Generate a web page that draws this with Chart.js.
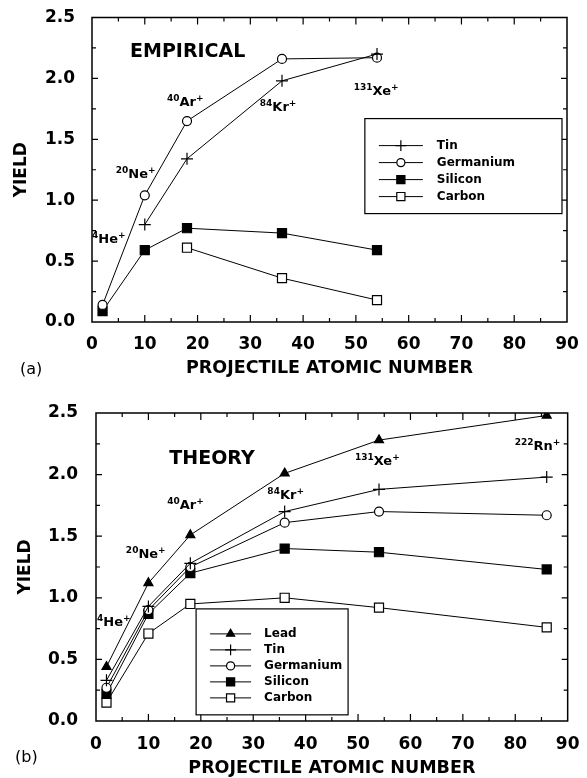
<!DOCTYPE html>
<html>
<head>
<meta charset="utf-8">
<script src="https://cdn.jsdelivr.net/npm/chart.js@4.4.1/dist/chart.umd.min.js"></script>
<style>
  html, body { margin: 0; padding: 0; background: #fff; }
  #wrap { position: relative; width: 587px; height: 778px; }
  .panel { position: absolute; left: 0; width: 587px; }
  #panelA { top: 0; height: 380px; }
  #panelB { top: 380px; height: 398px; }
</style>
</head>
<body>
<div id="wrap">
  <div class="panel" id="panelA"><canvas id="chartA"></canvas></div>
  <div class="panel" id="panelB"><canvas id="chartB"></canvas></div>
</div>
<script>
// projectile atomic numbers: He, Ne, Ar, Kr, Xe, Rn
const zEmpirical = [2, 10, 18, 36, 54];
const zTheory = [2, 10, 18, 36, 54, 86];

// (a) measured yields
const empTin = [null, 0.80, 1.34, 1.98, 2.20];
const empGermanium = [0.14, 1.04, 1.65, 2.16, 2.17];
const empSilicon = [0.09, 0.59, 0.77, 0.73, 0.59];
const empCarbon = [null, null, 0.61, 0.36, 0.18];

// (b) calculated yields
const thLead = [0.44, 1.12, 1.51, 2.01, 2.28, 2.48];
const thTin = [0.33, 0.93, 1.28, 1.70, 1.88, 1.98];
const thGermanium = [0.27, 0.90, 1.25, 1.61, 1.70, 1.67];
const thSilicon = [0.22, 0.87, 1.20, 1.40, 1.37, 1.23];
const thCarbon = [0.15, 0.71, 0.95, 1.00, 0.92, 0.76];

const xTickValues = [0, 10, 20, 30, 40, 50, 60, 70, 80, 90];
const yTickValues = [0, 0.5, 1.0, 1.5, 2.0, 2.5];

const ionMass = ['4', '20', '40', '84', '131', '222'];
const ionSymbol = ['He', 'Ne', 'Ar', 'Kr', 'Xe', 'Rn'];

const FONT = "'DejaVu Sans', 'Liberation Sans', sans-serif";

const markerStyle = {
    Lead: { pointStyle: 'triangle', radius: 5.2, fill: '#000' },
    Tin: { pointStyle: 'cross', radius: 6, fill: '#000' },
    Germanium: { pointStyle: 'circle', radius: 4.5, fill: '#fff' },
    Silicon: { pointStyle: 'rect', radius: 6.4, fill: '#000' },
    Carbon: { pointStyle: 'rect', radius: 6.4, fill: '#fff' }
};

function toPoints(xs, ys) {
    const pts = [];
    xs.forEach((x, i) => {
        if (ys[i] !== null && ys[i] !== undefined) pts.push({ x: x, y: ys[i] });
    });
    return pts;
}

function makeDataset(name, xs, ys) {
    const m = markerStyle[name];
    return {
        label: name,
        data: toPoints(xs, ys),
        borderColor: '#000',
        borderWidth: 1,
        backgroundColor: m.fill,
        pointStyle: m.pointStyle,
        pointRadius: m.radius,
        pointHoverRadius: m.radius,
        pointBackgroundColor: m.fill,
        pointBorderColor: '#000',
        pointBorderWidth: 1.2,
        tension: 0,
        fill: false
    };
}

// box around the plot with inward ticks on all four sides
const frameTicks = {
    id: 'frameTicks',
    afterDatasetsDraw(chart) {
        const { ctx, chartArea: a, scales: { x, y } } = chart;
        ctx.save();
        ctx.strokeStyle = '#000';
        ctx.lineWidth = 1.5;
        ctx.strokeRect(a.left, a.top, a.right - a.left, a.bottom - a.top);
        ctx.lineWidth = 1.2;
        ctx.beginPath();
        for (let v = 5; v < 90; v += 5) {
            const px = x.getPixelForValue(v);
            const len = v % 10 === 0 ? 7 : 4;
            ctx.moveTo(px, a.bottom); ctx.lineTo(px, a.bottom - len);
            ctx.moveTo(px, a.top); ctx.lineTo(px, a.top + len);
        }
        for (let k = 1; k < 10; k++) {
            const v = k * 0.25;
            const py = y.getPixelForValue(v);
            const len = k % 2 === 0 ? 6 : 4;
            ctx.moveTo(a.left, py); ctx.lineTo(a.left + len, py);
            ctx.moveTo(a.right, py); ctx.lineTo(a.right - len, py);
        }
        ctx.stroke();
        ctx.restore();
    }
};

// panel heading, ion names with mass-number superscripts, panel letter
const panelNotes = {
    id: 'panelNotes',
    afterDraw(chart, args, opts) {
        const { ctx, scales: { x, y } } = chart;
        ctx.save();
        ctx.fillStyle = '#000';
        ctx.textAlign = 'left';
        ctx.textBaseline = 'middle';

        ctx.font = 'bold 19px ' + FONT;
        ctx.fillText(opts.heading, x.getPixelForValue(opts.headingAt[0]), y.getPixelForValue(opts.headingAt[1]));

        opts.ions.forEach(ion => {
            let px = x.getPixelForValue(ion.at[0]);
            const base = y.getPixelForValue(ion.at[1]) + 4.7;
            ctx.textBaseline = 'alphabetic';
            ctx.font = 'bold 9px ' + FONT;
            ctx.fillText(ionMass[ion.i], px, base - 5);
            px += ctx.measureText(ionMass[ion.i]).width;
            ctx.font = 'bold 13px ' + FONT;
            ctx.fillText(ionSymbol[ion.i], px, base);
            px += ctx.measureText(ionSymbol[ion.i]).width;
            ctx.font = 'bold 9px ' + FONT;
            ctx.fillText('+', px, base - 5);
        });

        ctx.font = '16px ' + FONT;
        ctx.textBaseline = 'middle';
        ctx.fillText(opts.letter, opts.letterAt[0], opts.letterAt[1]);
        ctx.restore();
    }
};

// boxed key drawn inside the plot
const boxLegend = {
    id: 'boxLegend',
    afterDraw(chart, args, opts) {
        const { ctx, scales: { x, y } } = chart;
        const left = x.getPixelForValue(opts.box[0]);
        const right = x.getPixelForValue(opts.box[2]);
        const top = y.getPixelForValue(opts.box[1]);
        const bottom = y.getPixelForValue(opts.box[3]);
        ctx.save();
        ctx.fillStyle = '#fff';
        ctx.fillRect(left, top, right - left, bottom - top);
        ctx.strokeStyle = '#000';
        ctx.lineWidth = 1.2;
        ctx.strokeRect(left, top, right - left, bottom - top);

        chart.data.datasets.forEach((ds, i) => {
            const rowY = top + opts.firstRow + i * opts.rowGap;
            const x1 = left + opts.sampleStart;
            const x2 = x1 + opts.sampleLength;
            ctx.strokeStyle = '#000';
            ctx.lineWidth = 1;
            ctx.beginPath();
            ctx.moveTo(x1, rowY);
            ctx.lineTo(x2, rowY);
            ctx.stroke();
            ctx.fillStyle = ds.pointBackgroundColor;
            ctx.lineWidth = 1.2;
            Chart.helpers.drawPoint(ctx, {
                pointStyle: ds.pointStyle,
                radius: ds.pointRadius * 0.9,
                rotation: 0,
                borderWidth: 1.2
            }, (x1 + x2) / 2, rowY);
            ctx.fillStyle = '#000';
            ctx.font = 'bold 12px ' + FONT;
            ctx.textAlign = 'left';
            ctx.textBaseline = 'middle';
            ctx.fillText(ds.label, left + opts.textStart, rowY);
        });
        ctx.restore();
    }
};

function buildOptions(p) {
    return {
        responsive: true,
        maintainAspectRatio: false,
        animation: false,
        events: [],
        layout: { padding: { top: p.padTop, right: p.padRight, left: 0, bottom: 0 } },
        scales: {
            x: {
                type: 'linear',
                min: 0,
                max: 90,
                afterBuildTicks: s => { s.ticks = xTickValues.map(v => ({ value: v })); },
                afterFit: s => { s.height = p.xHeight; },
                grid: { display: false },
                border: { display: false },
                ticks: {
                    color: '#000',
                    padding: p.xTickPad,
                    maxRotation: 0,
                    font: { family: FONT, size: 17, weight: 'bold', lineHeight: 1 }
                },
                title: {
                    display: true,
                    text: 'PROJECTILE ATOMIC NUMBER',
                    color: '#000',
                    padding: { top: 0, bottom: p.xTitlePad },
                    font: { family: FONT, size: 17.5, weight: 'bold', lineHeight: 1 }
                }
            },
            y: {
                min: 0,
                max: 2.5,
                afterBuildTicks: s => { s.ticks = yTickValues.map(v => ({ value: v })); },
                afterFit: s => { s.width = p.yWidth; },
                grid: { display: false },
                border: { display: false },
                ticks: {
                    color: '#000',
                    padding: p.yTickPad,
                    callback: v => v.toFixed(1),
                    font: { family: FONT, size: 17, weight: 'bold', lineHeight: 1 }
                },
                title: {
                    display: true,
                    text: 'YIELD',
                    color: '#000',
                    padding: { top: p.yTitlePad, bottom: 0 },
                    font: { family: FONT, size: 17, weight: 'bold', lineHeight: 1 }
                }
            }
        },
        plugins: {
            legend: { display: false },
            tooltip: { enabled: false },
            panelNotes: p.notes,
            boxLegend: p.key
        }
    };
}

new Chart(document.getElementById('chartA'), {
    type: 'line',
    data: {
        datasets: [
            makeDataset('Tin', zEmpirical, empTin),
            makeDataset('Germanium', zEmpirical, empGermanium),
            makeDataset('Silicon', zEmpirical, empSilicon),
            makeDataset('Carbon', zEmpirical, empCarbon)
        ]
    },
    options: buildOptions({
        padTop: 15, padRight: 20, xHeight: 58, yWidth: 92,
        xTickPad: 6.5, xTitlePad: 3.25, yTickPad: 9, yTitlePad: 13,
        notes: {
            heading: 'EMPIRICAL',
            headingAt: [7.2, 2.215],
            letter: '(a)',
            letterAt: [20, 370],
            ions: [
                { i: 0, at: [0.0, 0.684] },
                { i: 1, at: [4.5, 1.22] },
                { i: 2, at: [14.2, 1.81] },
                { i: 3, at: [31.8, 1.77] },
                { i: 4, at: [49.6, 1.90] }
            ]
        },
        key: { box: [51.7, 1.67, 89.05, 0.89], firstRow: 27, rowGap: 17, sampleStart: 14, sampleLength: 44, textStart: 72 }
    }),
    plugins: [frameTicks, panelNotes, boxLegend]
});

new Chart(document.getElementById('chartB'), {
    type: 'line',
    data: {
        datasets: [
            makeDataset('Lead', zTheory, thLead),
            makeDataset('Tin', zTheory, thTin),
            makeDataset('Germanium', zTheory, thGermanium),
            makeDataset('Silicon', zTheory, thSilicon),
            makeDataset('Carbon', zTheory, thCarbon)
        ]
    },
    options: buildOptions({
        padTop: 33, padRight: 16, xHeight: 57, yWidth: 96,
        xTickPad: 7.5, xTitlePad: 0.5, yTickPad: 10, yTitlePad: 17.5,
        notes: {
            heading: 'THEORY',
            headingAt: [14.0, 2.13],
            letter: '(b)',
            letterAt: [15, 378],
            ions: [
                { i: 0, at: [0.2, 0.81] },
                { i: 1, at: [5.7, 1.36] },
                { i: 2, at: [13.6, 1.76] },
                { i: 3, at: [32.7, 1.84] },
                { i: 4, at: [49.4, 2.12] },
                { i: 5, at: [79.9, 2.24] }
            ]
        },
        key: { box: [19.1, 0.91, 48.1, 0.05], firstRow: 25, rowGap: 16, sampleStart: 14, sampleLength: 41, textStart: 68 }
    }),
    plugins: [frameTicks, panelNotes, boxLegend]
});
</script>
</body>
</html>
